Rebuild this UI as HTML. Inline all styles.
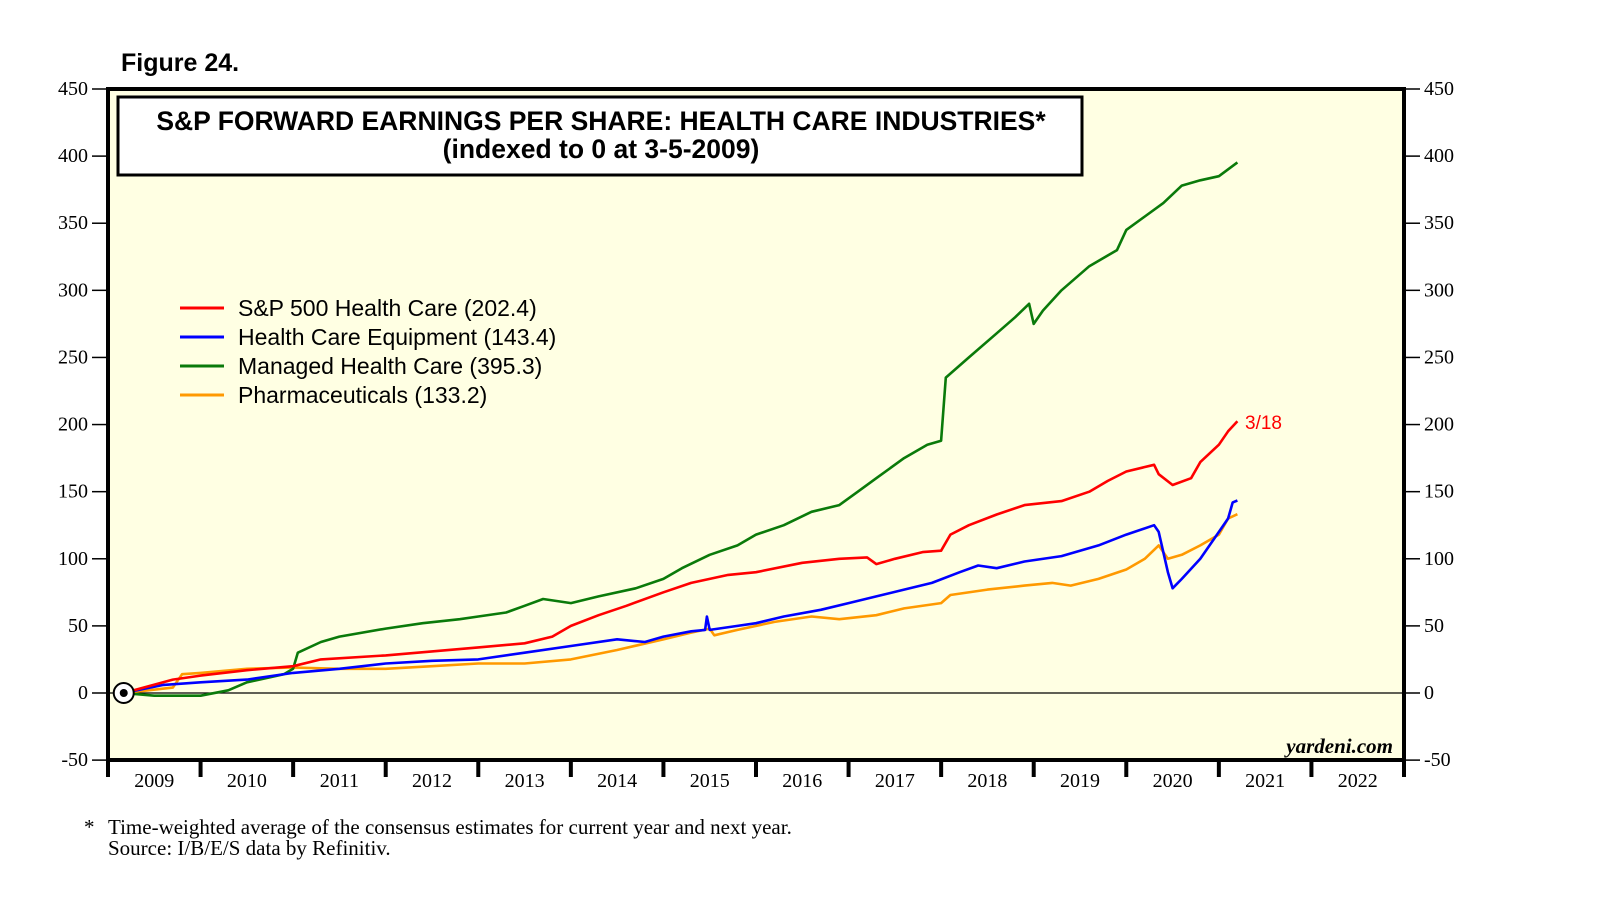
<!DOCTYPE html>
<html><head><meta charset="utf-8"><style>
html,body{margin:0;padding:0;background:#fff;width:1610px;height:910px;overflow:hidden}
svg{display:block}
.sr{font-family:"Liberation Serif",serif}
.ss{font-family:"Liberation Sans",sans-serif}
</style></head><body>
<svg id="c" width="1610" height="910" xmlns="http://www.w3.org/2000/svg"></svg>
<script>
const yearLabels=["2009","2010","2011","2012","2013","2014","2015","2016","2017","2018","2019","2020","2021","2022"];
const yTicks=[-50,0,50,100,150,200,250,300,350,400,450];
const redT=[2009.17,2009.7,2010,2010.5,2011,2011.3,2012,2012.5,2013,2013.5,2013.8,2014,2014.3,2014.6,2015,2015.3,2015.7,2016,2016.5,2016.9,2017.2,2017.3,2017.5,2017.8,2018,2018.1,2018.3,2018.6,2018.9,2019.3,2019.6,2019.8,2020,2020.3,2020.35,2020.5,2020.7,2020.8,2021,2021.1,2021.2];
const redV=[0,10,13,17,20,25,28,31,34,37,42,50,58,65,75,82,88,90,97,100,101,96,100,105,106,118,125,133,140,143,150,158,165,170,163,155,160,172,185,195,202.4];
const blueT=[2009.17,2009.6,2010,2010.5,2011,2011.5,2012,2012.5,2013,2013.5,2014,2014.5,2014.8,2015,2015.3,2015.45,2015.47,2015.5,2015.8,2016,2016.3,2016.7,2017,2017.3,2017.6,2017.9,2018.2,2018.4,2018.6,2018.9,2019.3,2019.7,2020,2020.3,2020.35,2020.45,2020.5,2020.6,2020.8,2021,2021.1,2021.15,2021.2];
const blueV=[0,6,8,10,15,18,22,24,25,30,35,40,38,42,46,47,57,47,50,52,57,62,67,72,77,82,90,95,93,98,102,110,118,125,120,90,78,85,100,120,130,142,143.4];
const greenT=[2009.17,2009.5,2010,2010.3,2010.5,2010.9,2011,2011.05,2011.3,2011.5,2012,2012.4,2012.8,2013,2013.3,2013.5,2013.7,2014,2014.3,2014.7,2015,2015.2,2015.5,2015.8,2016,2016.3,2016.6,2016.9,2017.1,2017.3,2017.6,2017.85,2018,2018.05,2018.3,2018.6,2018.8,2018.95,2019,2019.1,2019.3,2019.6,2019.9,2020,2020.2,2020.4,2020.6,2020.8,2021,2021.2];
const greenV=[0,-2,-2,2,8,14,18,30,38,42,48,52,55,57,60,65,70,67,72,78,85,93,103,110,118,125,135,140,150,160,175,185,188,235,250,268,280,290,275,285,300,318,330,345,355,365,378,382,385,395.3];
const orangeT=[2009.17,2009.7,2009.8,2010,2010.5,2011,2011.5,2012,2012.5,2013,2013.5,2014,2014.5,2015,2015.3,2015.5,2015.55,2015.8,2016.2,2016.6,2016.9,2017.3,2017.6,2018,2018.1,2018.5,2018.9,2019.2,2019.4,2019.7,2020,2020.2,2020.35,2020.45,2020.6,2020.8,2021,2021.1,2021.2];
const orangeV=[0,4,14,15,18,19,18,18,20,22,22,25,32,40,45,48,43,47,53,57,55,58,63,67,73,77,80,82,80,85,92,100,110,100,103,110,118,130,133.2];
const legendLabels=["S&P 500 Health Care (202.4)","Health Care Equipment (143.4)","Managed Health Care (395.3)","Pharmaceuticals (133.2)"];

const NS="http://www.w3.org/2000/svg";
const svg=document.getElementById('c');
const L=108,R=1404,T=89,B=760;
const X=t=>L+(t-2009)*(R-L)/14;
const Y=v=>693-v*(693-89)/450;
function mk(tag,attrs,parent){const e=document.createElementNS(NS,tag);for(const k in attrs)e.setAttribute(k,attrs[k]);(parent||svg).appendChild(e);return e;}

let e;
e=mk('rect',{x:L,y:T,width:R-L,height:B-T,fill:'#ffffe3'});


e=mk('text',{x:121,y:71,'font-size':25,'font-weight':'bold',class:'ss'});e.textContent='Figure 24.';



e=mk('line',{x1:L,x2:R,y1:Y(0),y2:Y(0),stroke:'#000','stroke-width':1.2});



yTicks.forEach(v=>{
  const y=Y(v);
  let t=mk('line',{x1:L-16,x2:L,y1:y,y2:y,stroke:'#000','stroke-width':1.5});
  
  
  t=mk('line',{x1:R,x2:R+16,y1:y,y2:y,stroke:'#000','stroke-width':1.5});
  
  
  let tx=mk('text',{x:L-20,y:y+6,'text-anchor':'end','font-size':20,class:'sr'});tx.textContent=v;
  
  
  tx=mk('text',{x:R+20,y:y+6,'font-size':20,class:'sr'});tx.textContent=v;
  
  
});
for(let i=0;i<=14;i++){
  const x=X(2009+i);
  const t=mk('line',{x1:x,x2:x,y1:B,y2:B+17,stroke:'#000','stroke-width':4});
  
  
}
yearLabels.forEach((s,i)=>{
  const tx=mk('text',{x:X(2009+i+0.5),y:787,'text-anchor':'middle','font-size':20,class:'sr'});tx.textContent=s;
  
  
});

function series(ts,vs,color,name){
  const d=ts.map((t,i)=>(i?'L':'M')+X(t).toFixed(1)+','+Y(vs[i]).toFixed(1)).join('');
  const p=mk('path',{d:d,fill:'none',stroke:color,'stroke-width':2.6,'stroke-linejoin':'round'});
  
  
}
series(orangeT,orangeV,'#ff9900','line-pharmaceuticals');
series(greenT,greenV,'#0a7a0a','line-managed-health-care');
series(blueT,blueV,'#0000ff','line-health-care-equipment');
series(redT,redV,'#ff0000','line-sp500-health-care');

e=mk('circle',{cx:X(2009.17),cy:Y(0),r:10,fill:'#fff',stroke:'#000','stroke-width':2});


mk('circle',{cx:X(2009.17),cy:Y(0),r:4,fill:'#000'});

e=mk('text',{x:1245,y:429,'font-size':19,fill:'#ff0000',class:'ss'});e.textContent='3/18';



e=mk('rect',{x:L,y:T,width:R-L,height:B-T,fill:'none',stroke:'#000','stroke-width':4});



e=mk('rect',{x:118,y:97,width:964,height:78,fill:'#fff',stroke:'#000','stroke-width':3});


e=mk('text',{x:601,y:130,'text-anchor':'middle','font-size':26.5,'font-weight':'bold',class:'ss'});e.textContent='S&P FORWARD EARNINGS PER SHARE: HEALTH CARE INDUSTRIES*';


e=mk('text',{x:601,y:158,'text-anchor':'middle','font-size':26.5,'font-weight':'bold',class:'ss'});e.textContent='(indexed to 0 at 3-5-2009)';



const lc=['#ff0000','#0000ff','#0a7a0a','#ff9900'];
legendLabels.forEach((s,i)=>{
  const y=308+i*29;
  const ln=mk('line',{x1:180,x2:224,y1:y,y2:y,stroke:lc[i],'stroke-width':3});
  
  
  const tx=mk('text',{x:238,y:y+8,'font-size':23,class:'ss'});tx.textContent=s;
  
  
});

e=mk('text',{x:1393,y:753,'text-anchor':'end','font-size':21,'font-style':'italic','font-weight':'bold',class:'sr'});e.textContent='yardeni.com';



e=mk('text',{x:84,y:834,'font-size':21,class:'sr'});e.textContent='*';


e=mk('text',{x:108,y:834,'font-size':21,class:'sr'});e.textContent='Time-weighted average of the consensus estimates for current year and next year.';


e=mk('text',{x:108,y:855,'font-size':21,class:'sr'});e.textContent='Source: I/B/E/S data by Refinitiv.';


</script>
</body></html>
